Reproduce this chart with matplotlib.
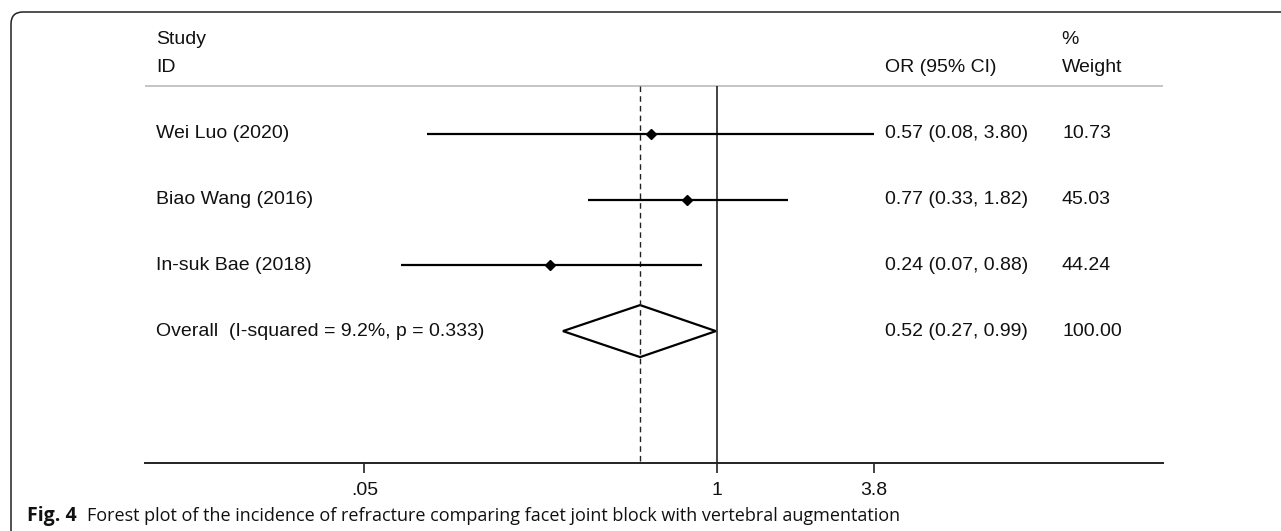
import matplotlib
matplotlib.use("Agg")
import matplotlib.pyplot as plt
import matplotlib.transforms as mtransforms
from matplotlib.patches import Polygon, FancyBboxPatch

# ---- data ----
studies = ["Wei Luo (2020)", "Biao Wang (2016)", "In-suk Bae (2018)"]
or_est = [0.571, 0.775, 0.242]
ci_low = [0.085, 0.334, 0.068]
ci_high = [3.79, 1.83, 0.88]
or_text = ["0.57 (0.08, 3.80)", "0.77 (0.33, 1.82)", "0.24 (0.07, 0.88)"]
weights = ["10.73", "45.03", "44.24"]
overall_label = "Overall  (I-squared = 9.2%, p = 0.333)"
overall_est = 0.52
overall_low = 0.27
overall_high = 0.99
overall_text = "0.52 (0.27, 0.99)"
overall_weight = "100.00"
xticks = [0.05, 1, 3.8]
xtick_labels = [".05", "1", "3.8"]
caption_bold = "Fig. 4"
caption_text = "Forest plot of the incidence of refracture comparing facet joint block with vertebral augmentation"

W, H = 1281, 531
DPI = 100
fig = plt.figure(figsize=(W / DPI, H / DPI), dpi=DPI)
fig.patch.set_facecolor("white")

FONT = ["Liberation Sans", "DejaVu Sans"]
FS = 14

# axes: x from 145 to 1163 px, y from 463 (bottom) to 12 (top)
ax_left, ax_right = 145, 1163
ax_bottom, ax_top = 463, 12
ax = fig.add_axes([ax_left / W, 1 - ax_bottom / H, (ax_right - ax_left) / W, (ax_bottom - ax_top) / H])
ax.set_xscale("log")
ax.set_xlim(0.00775, 44.2)
ppu = 65.7
y_top = (ax_top - 134) / ppu
y_bot = (ax_bottom - 134) / ppu
ax.set_ylim(y_bot, y_top)
ax.patch.set_alpha(0)

for s in ["top", "right", "left"]:
    ax.spines[s].set_visible(False)
ax.spines["bottom"].set_linewidth(1.4)
ax.spines["bottom"].set_color("#222222")
ax.set_yticks([])
ax.set_xticks(xticks)
ax.set_xticklabels(xtick_labels, fontsize=FS, family=FONT)
ax.xaxis.set_minor_locator(matplotlib.ticker.NullLocator())
ax.tick_params(axis="x", length=7, width=1.2, color="#222222", pad=7, labelcolor="#111111")

header_y = (86 - 134) / ppu
ax.axhline(header_y, color="#bbbbbb", lw=1.2)

ax.vlines(1, header_y, y_bot, color="#222222", lw=1.2)
ax.vlines(overall_est, header_y, y_bot, color="#222222", lw=1.0, linestyles=(0, (4, 3)))

rows = list(range(len(studies)))
for r, est, lo, hi in zip(rows, or_est, ci_low, ci_high):
    ax.hlines(r, lo, hi, color="black", lw=1.6)
    ax.plot(est, r, marker="D", color="black", markersize=5)

ov_row = len(studies)
hh = 26 / ppu
diamond = Polygon([(overall_low, ov_row), (overall_est, ov_row - hh),
                   (overall_high, ov_row), (overall_est, ov_row + hh)],
                  closed=True, fill=False, edgecolor="black", lw=1.6)
ax.add_patch(diamond)

tr = mtransforms.blended_transform_factory(ax.transAxes, ax.transData)
def fx(px):
    return (px - ax_left) / (ax_right - ax_left)

def put(px, y_px, s, **kw):
    ax.text(fx(px), (y_px - 134) / ppu, s, transform=tr, fontsize=FS, family=FONT,
            va="center", ha="left", color="#111111", **kw)

put(156, 39, "Study")
put(156, 67, "ID")
put(885, 67, "OR (95% CI)")
put(1061, 39, "%")
put(1062, 67, "Weight")

for r, name, txt, w in zip(rows, studies, or_text, weights):
    ypx = 134 + r * ppu
    put(156, ypx, name)
    put(885, ypx, txt)
    put(1062, ypx, w)

ypx = 134 + ov_row * ppu
put(156, ypx, overall_label)
put(885, ypx, overall_text)
put(1062, ypx, overall_weight)

# border box (rounded top-left, extends past right/bottom)
box = FancyBboxPatch((11, -60), 1400, H - 12 + 60, boxstyle="round,pad=0,rounding_size=12",
                     transform=mtransforms.IdentityTransform(), fill=False,
                     edgecolor="#222222", lw=1.1)
fig.patches.append(box)

# caption
CAP = ["Open Sans", "DejaVu Sans"]
fig.text(27 / W, 1 - 516 / H, caption_bold, fontsize=14, fontweight="bold", family=CAP,
         va="center", ha="left", color="#111111")
fig.text(87 / W, 1 - 516 / H, caption_text, fontsize=13, family=CAP,
         va="center", ha="left", color="#111111")

fig.savefig("out.png", dpi=DPI, facecolor="white")
